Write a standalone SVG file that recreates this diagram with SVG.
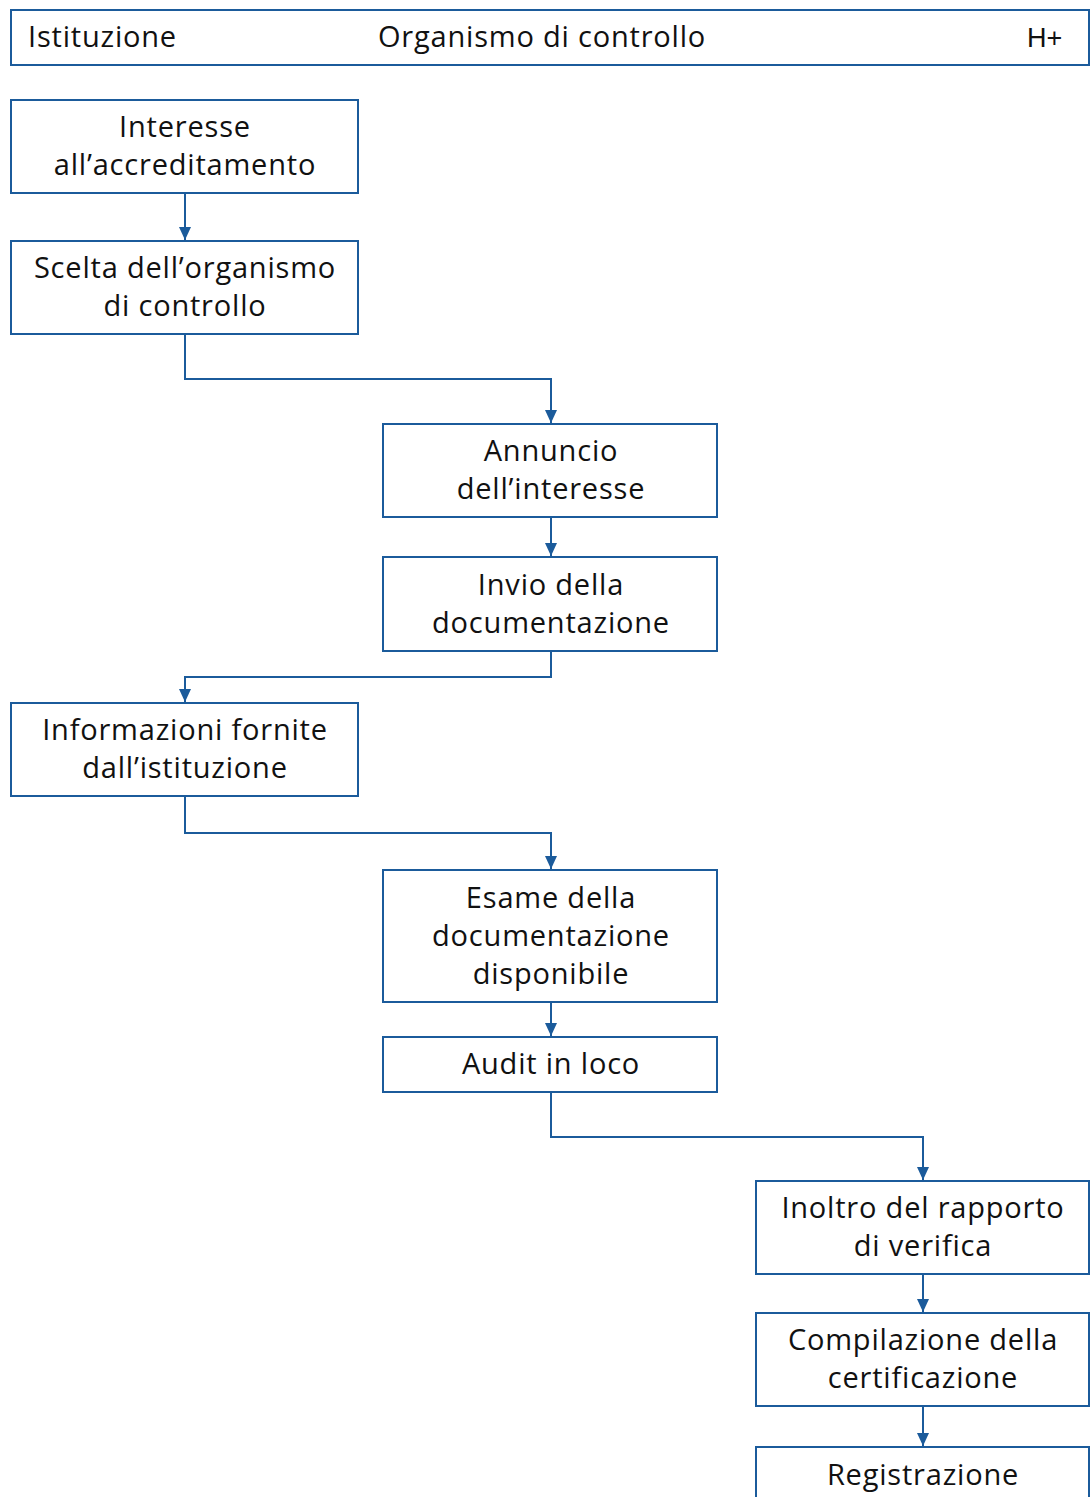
<svg xmlns="http://www.w3.org/2000/svg" width="1090" height="1497" viewBox="0 0 1090 1497">
<style>
.b{fill:#fff;stroke:#1b5b9b;stroke-width:2}
.c{fill:none;stroke:#1b5b9b;stroke-width:2}
text{font-family:"Open Sans","Noto Sans",sans-serif;font-size:29px;letter-spacing:0.8px;fill:#111;text-anchor:middle;font-variant-ligatures:none}
.l{text-anchor:start}
</style>
<defs>
<marker id="d" markerWidth="14" markerHeight="14" refX="6" refY="13" orient="0" markerUnits="userSpaceOnUse" viewBox="0 0 12 14">
<path d="M0,0 L12,0 L6,13 Z" fill="#1b5b9b"/>
</marker>
</defs>
<g id="header">
<rect class="b" x="11" y="10" width="1078" height="55"/>
<text class="l" x="28" y="47">Istituzione</text>
<text class="l" x="378" y="47">Organismo di controllo</text>
<text class="l" x="1027" y="47" style="font-family:'Liberation Sans',Arial,sans-serif;font-size:27px;letter-spacing:0">H+</text>
</g>
<g id="connectors">
<path class="c" d="M185,193 V240" marker-end="url(#d)"/>
<path class="c" d="M185,334 V379 H551 V423" marker-end="url(#d)"/>
<path class="c" d="M551,517 V556" marker-end="url(#d)"/>
<path class="c" d="M551,651 V677 H185 V702" marker-end="url(#d)"/>
<path class="c" d="M185,796 V833 H551 V869" marker-end="url(#d)"/>
<path class="c" d="M551,1002 V1036" marker-end="url(#d)"/>
<path class="c" d="M551,1092 V1137 H923 V1180" marker-end="url(#d)"/>
<path class="c" d="M923,1274 V1312" marker-end="url(#d)"/>
<path class="c" d="M923,1406 V1446" marker-end="url(#d)"/>
</g>
<g id="n1"><rect class="b" x="11" y="100" width="347" height="93"/>
<text x="185" y="137">Interesse</text><text x="185" y="175">all’accreditamento</text></g>
<g id="n2"><rect class="b" x="11" y="241" width="347" height="93"/>
<text x="185" y="278">Scelta dell’organismo</text><text x="185" y="316">di controllo</text></g>
<g id="n3"><rect class="b" x="383" y="424" width="334" height="93"/>
<text x="551" y="461">Annuncio</text><text x="551" y="499">dell’interesse</text></g>
<g id="n4"><rect class="b" x="383" y="557" width="334" height="94"/>
<text x="551" y="595">Invio della</text><text x="551" y="633">documentazione</text></g>
<g id="n5"><rect class="b" x="11" y="703" width="347" height="93"/>
<text x="185" y="740">Informazioni fornite</text><text x="185" y="778">dall’istituzione</text></g>
<g id="n6"><rect class="b" x="383" y="870" width="334" height="132"/>
<text x="551" y="908">Esame della</text><text x="551" y="946">documentazione</text><text x="551" y="984">disponibile</text></g>
<g id="n7"><rect class="b" x="383" y="1037" width="334" height="55"/>
<text x="551" y="1074">Audit in loco</text></g>
<g id="n8"><rect class="b" x="756" y="1181" width="333" height="93"/>
<text x="923" y="1218">Inoltro del rapporto</text><text x="923" y="1256">di verifica</text></g>
<g id="n9"><rect class="b" x="756" y="1313" width="333" height="93"/>
<text x="923" y="1350">Compilazione della</text><text x="923" y="1388">certificazione</text></g>
<g id="n10"><rect class="b" x="756" y="1447" width="333" height="60"/>
<text x="923" y="1485">Registrazione</text></g>
</svg>
